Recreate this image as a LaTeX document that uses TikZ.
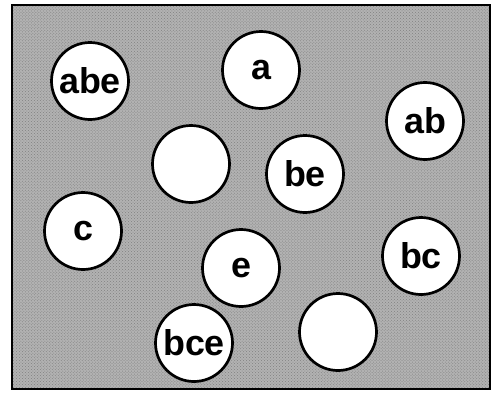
\documentclass[tikz,border=0pt]{standalone}
\usepackage{fontspec}
\setmainfont{Liberation Sans}
\usepackage{tikz}
\usetikzlibrary{patterns}

\tikzset{
  disc/.style={circle, draw, fill=white, line width=2.7bp, minimum size=77bp,
    inner sep=0pt, font=\bfseries\fontsize{36}{36}\selectfont}
}

\begin{document}
\begin{tikzpicture}[x=1bp, y=-1bp]
  \useasboundingbox (0,0) rectangle (492,392);

  % textured grey field
  \fill[black!30] (12,5) rectangle (490,389);
  \fill[pattern=crosshatch dots, pattern color=black!50] (12,5) rectangle (490,389);
  \draw[line width=2.2bp] (12,5) rectangle (490,389);

  % the discs
  \node[disc] (abe)    at ( 90, 81) {abe};
  \node[disc] (a)      at (261, 70) {a};
  \node[disc] (ab)     at (425,121) {ab};
  \node[disc] (blankA) at (191,164) {};
  \node[disc] (be)     at (305,174) {be};
  \node[disc] (c)      at ( 83,231) {c};
  \node[disc] (bc)     at (421,256) {bc};
  \node[disc] (e)      at (241,268) {e};
  \node[disc] (blankB) at (338,332) {};
  \node[disc] (bce)    at (194,343) {bce};
\end{tikzpicture}
\end{document}
